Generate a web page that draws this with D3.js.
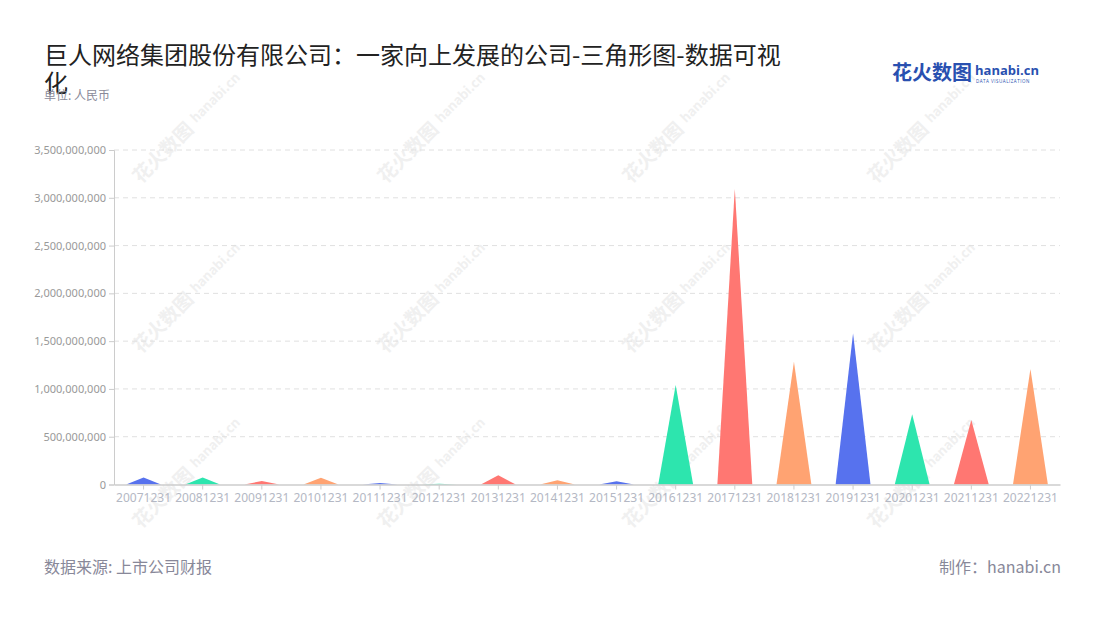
<!DOCTYPE html>
<html><head><meta charset="utf-8">
<script src="https://cdn.jsdelivr.net/npm/d3@7"></script>
<style>
body{margin:0;background:#fff;}
svg{display:block;font-family:"Noto Sans CJK SC","Noto Sans",sans-serif;}
</style></head>
<body>
<svg id="chart" width="1100" height="620"></svg>
<script>
const categories = ["20071231","20081231","20091231","20101231","20111231","20121231","20131231","20141231","20151231","20161231","20171231","20181231","20191231","20201231","20211231","20221231"];
const values = [73000000,73000000,37000000,70000000,15000000,8000000,97000000,45000000,33000000,1041000000,3098000000,1285000000,1582000000,734000000,675000000,1208000000];
const colors = ["#5772EE","#2DE5AE","#FF7772","#FFA372"];
const yTicks = [0,500000000,1000000000,1500000000,2000000000,2500000000,3000000000,3500000000];
const titleLines = ["巨人网络集团股份有限公司：一家向上发展的公司-三角形图-数据可视","化"];
const subtitle = "单位: 人民币";
const sourceText = "数据来源: 上市公司财报";
const makerText = "制作：hanabi.cn";

(function(){
const svg = d3.select("#chart");
const pLeft = 114, pRight = 1060, pTop = 150, pBottom = 484.5;

// watermarks
const wmX = [155, 400, 645, 890];
const wmY = [170, 340, 515];
const wm = svg.append("g");
wmY.forEach((wy, j) => wmX.forEach(wx => {
  const g = wm.append("g").attr("transform", `translate(${wx},${wy}) rotate(-45)`);
  g.append("text").attr("x", -20).attr("y", 0).attr("font-size", 19).attr("font-weight", "bold")
    .attr("fill", "#f0f0f0").text("花火数图");
  g.append("text").attr("x", 62).attr("y", -4).attr("font-size", 13).attr("font-weight", "bold")
    .attr("fill", "#f0f0f0").text("hanabi.cn");
}));

const x = d3.scaleBand().domain(categories).range([pLeft, pRight]);
const y = d3.scaleLinear().domain([0, 3500000000]).range([pBottom, pTop]);

// gridlines
svg.append("g").selectAll("line").data(yTicks.filter(d => d > 0)).join("line")
  .attr("x1", pLeft).attr("x2", pRight)
  .attr("y1", d => y(d)).attr("y2", d => y(d))
  .attr("stroke", "#e0e0e0").attr("stroke-dasharray", "5,4");

// y axis
const yAxis = svg.append("g").attr("transform", `translate(${pLeft},0)`)
  .call(d3.axisLeft(y).tickValues(yTicks).tickFormat(d3.format(",")).tickSize(5).tickPadding(3));
yAxis.select(".domain").attr("stroke", "#cccccc");
yAxis.selectAll(".tick line").attr("stroke", "#cccccc");
yAxis.selectAll(".tick text").attr("fill", "#999999").attr("font-size", 11)
  .attr("font-family", "'Noto Sans',sans-serif");

// triangles
const w = x.bandwidth() * 0.59;
svg.append("g").selectAll("path").data(categories).join("path")
  .attr("d", (c, i) => {
    const cx = x(c) + x.bandwidth() / 2;
    return `M${cx - w / 2},${y(0)} L${cx},${y(values[i])} L${cx + w / 2},${y(0)} Z`;
  })
  .attr("fill", (c, i) => colors[i % 4]);

// x axis
const xAxis = svg.append("g").attr("transform", `translate(0,${pBottom})`)
  .call(d3.axisBottom(x).tickSize(5).tickPadding(4).tickSizeOuter(0));
xAxis.select(".domain").attr("stroke", "#cccccc").attr("stroke-width", 1.5);
xAxis.selectAll(".tick line").attr("stroke", "#cccccc");
xAxis.selectAll(".tick text").attr("fill", "#b4b8c4").attr("font-size", 12)
  .attr("font-family", "'Noto Sans',sans-serif");

// title
svg.append("text").attr("x", 44).attr("y", 64).attr("font-size", 24).attr("fill", "#222")
  .selectAll("tspan").data(titleLines).join("tspan")
  .attr("x", 44).attr("dy", (d, i) => i === 0 ? 0 : 28).text(d => d);
svg.append("text").attr("x", 44).attr("y", 100).attr("font-size", 12).attr("fill", "#8a8a99").text(subtitle);

// logo
svg.append("text").attr("x", 892).attr("y", 80).attr("font-size", 20).attr("font-weight", "bold")
  .attr("fill", "#2950b0").text("花火数图");
svg.append("text").attr("x", 975).attr("y", 75).attr("font-size", 13).attr("font-weight", "bold")
  .attr("fill", "#2950b0").attr("font-family", "'Open Sans',sans-serif").text("hanabi.cn");
svg.append("text").attr("x", 976).attr("y", 83).attr("font-size", 4.5)
  .attr("fill", "#2950b0").attr("letter-spacing", 0.5).attr("font-family", "'Open Sans',sans-serif").text("DATA VISUALIZATION");

// footer
svg.append("text").attr("x", 44).attr("y", 573).attr("font-size", 16).attr("fill", "#888899").text(sourceText);
svg.append("text").attr("x", 1061).attr("y", 573).attr("font-size", 16).attr("fill", "#888899")
  .attr("text-anchor", "end").text(makerText);
})();
</script>
</body></html>
